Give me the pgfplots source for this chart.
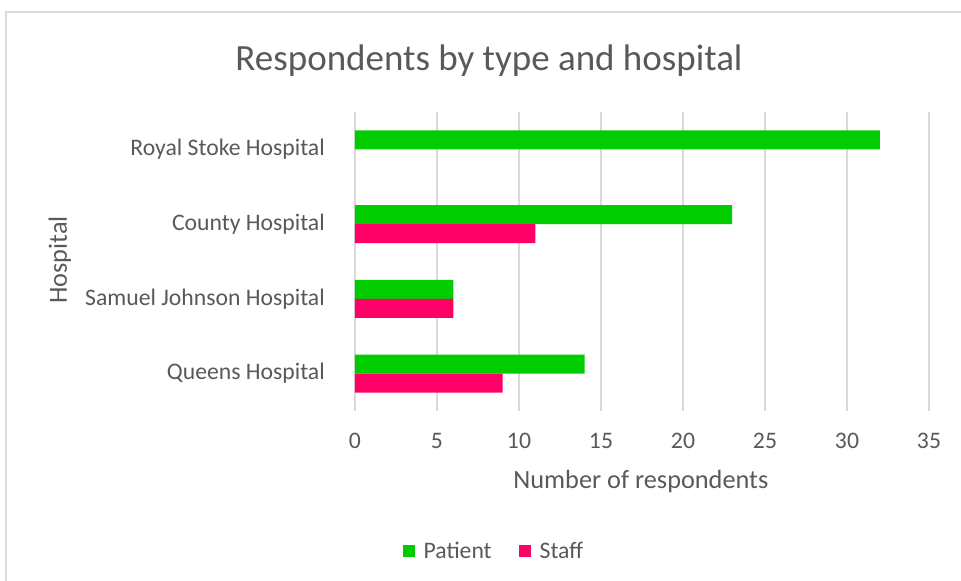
\documentclass[border=0pt]{standalone}
\usepackage{fontspec}
\setmainfont{Carlito}
\usepackage{pgfplots}
\pgfplotsset{compat=1.18}

\definecolor{patient}{HTML}{00CC00}
\definecolor{staff}{HTML}{FF0066}
\definecolor{txt}{HTML}{595959}
\definecolor{gridc}{HTML}{D9D9D9}

\newcommand{\tickfont}{\fontsize{23.7bp}{28bp}\selectfont}
\newcommand{\labfont}{\fontsize{26.3bp}{31bp}\selectfont}
\newcommand{\titlefont}{\fontsize{37bp}{44bp}\selectfont}

\begin{document}
\begin{tikzpicture}
\useasboundingbox (-355bp,-170bp) rectangle (606bp,411bp);
\draw[gridc, line width=1.5bp] (-349bp,-200bp) -- (-349bp,399bp) -- (640bp,399bp);
\begin{axis}[
  at={(0,0)}, anchor=south west,
  scale only axis,
  width=574bp, height=299bp,
  xmin=0, xmax=35,
  ymin=-0.5, ymax=3.5,
  xtick={0,5,...,35},
  ytick={0,1,2,3},
  yticklabels={Queens Hospital, Samuel Johnson Hospital, County Hospital, Royal Stoke Hospital},
  major tick length=0pt,
  axis line style={draw=none},
  xmajorgrids,
  major grid style={gridc, line width=1.6bp},
  /pgf/number format/assume math mode=true,
  xticklabel style={font=\tickfont, text=txt, inner sep=0pt, anchor=north},
  yticklabel style={font=\tickfont, text=txt, inner sep=0pt, anchor=east},
  xticklabel shift=22bp,
  yticklabel shift=30bp,
  xlabel={Number of respondents},
  ylabel={Hospital},
  xlabel style={font=\labfont, text=txt, at={(axis description cs:0.498,-0.237)}, anchor=center},
  ylabel style={font=\labfont, text=txt, at={(axis description cs:-0.514,0.505)}, anchor=center},
  title={Respondents by type and hospital},
  title style={font=\titlefont, text=txt, at={(axis description cs:0.2335,1.153)}, anchor=center},
  xbar, bar width=0.254,
  legend columns=2,
  legend style={at={(axis description cs:0.242,-0.468)}, anchor=center, draw=none, fill=none,
    font=\tickfont, text=txt, inner sep=0pt,
    /tikz/every odd column/.append style={column sep=7bp},
    /tikz/every even column/.append style={column sep=25bp}},
  legend image code/.code={\path[#1, draw=none] (0bp,-6bp) rectangle (12bp,6bp);},
]
% Royal Stoke has no staff respondents, so that bar is left out
\addplot[fill=patient, draw=none, bar shift=0.127] coordinates {(14,0) (6,1) (23,2) (32,3)};
\addlegendentry{Patient}
\addplot[fill=staff, draw=none, bar shift=-0.127] coordinates {(9,0) (6,1) (11,2)};
\addlegendentry{Staff}
\end{axis}
\end{tikzpicture}
\end{document}
